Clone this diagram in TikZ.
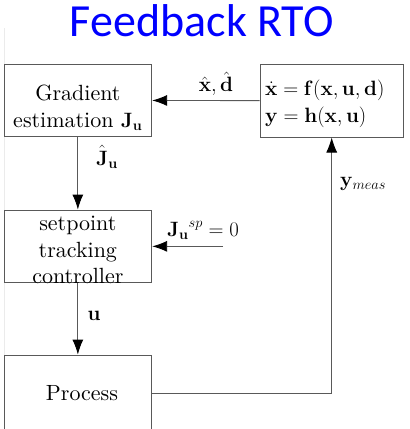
\documentclass[tikz,border=0pt]{standalone}
\usepackage{amsmath}
\usepackage{amssymb}
\usepackage[no-math]{fontspec}
\usepackage{tikz}
\usepackage{xcolor}
\usetikzlibrary{arrows.meta,positioning}
\setmainfont{lmroman10-regular.otf}[BoldFont=lmroman10-bold.otf,
  ItalicFont=lmroman10-italic.otf]
\newfontfamily\titlefont{Carlito}
\newcommand{\bigfont}{\fontsize{22}{26.7}\selectfont}

\begin{document}
\begin{tikzpicture}[x=1pt, y=-1pt,
    blk/.style={draw=black!65, line width=0.9pt, inner sep=0pt,
                minimum width=147.7pt, minimum height=72.7pt},
    txt/.style={font=\bigfont, inner sep=0pt, align=center},
    sig/.style={draw=black!65, line width=0.9pt,
                -{Latex[length=15pt,width=11pt,color=black]}}]
  \clip (0,0) rectangle (410,429);
  % --- title -------------------------------------------------------------
  \node[font=\titlefont\fontsize{46}{50}\selectfont, text=blue, inner sep=0pt,
        anchor=base] (title) at (201.7,36) {Feedback RTO};
  \draw[black!8] (4,28) -- (4,429);
  % --- blocks ------------------------------------------------------------
  \node[blk] (grad) at (77.85,100.35) {};
  \node[blk, minimum width=143.3pt] (model) at (331.7,100.7) {};
  \node[blk] (setp) at (77.85,246.35) {};
  \node[blk, minimum height=76pt] (proc) at (77.85,393) {};
  \node[txt] (gradtxt) at (77.85,107.5) {Gradient\\estimation $\mathbf{J}_{\mathbf{u}}$};
  \node[txt, align=left, anchor=west] (modeltxt) at (265,104)
       {$\dot{\mathbf{x}} = \mathbf{f}(\mathbf{x},\mathbf{u},\mathbf{d})$\\
        $\mathbf{y} = \mathbf{h}(\mathbf{x},\mathbf{u})$};
  \node[txt] (setptxt) at (77.85,250) {setpoint\\tracking\\controller};
  \node[txt, anchor=base] (proctxt) at (82,400) {Process};
  % --- signals -----------------------------------------------------------
  \coordinate (spin) at (223,246.35);
  \draw[sig] (model) -- (grad);
  \draw[sig] (grad) -- (setp);
  \draw[sig] (spin) -- (setp.east);
  \draw[sig] (setp) -- (proc);
  \draw[sig] (proc.east) -| (model.south);
  \node[txt, anchor=base] (xdlbl) at (216,91.7) {$\hat{\mathbf{x}}, \hat{\mathbf{d}}$};
  \node[txt, anchor=base] (jlbl) at (107,165) {$\hat{\mathbf{J}}_{\mathbf{u}}$};
  \node[txt, anchor=base] (splbl) at (203,236) {${\mathbf{J}_{\mathbf{u}}}^{sp} = 0$};
  \node[txt, anchor=base] (ulbl) at (94,320) {$\mathbf{u}$};
  \node[txt, anchor=base west] (ylbl) at (340,186.5) {$\mathbf{y}_{meas}$};
\end{tikzpicture}
\end{document}
